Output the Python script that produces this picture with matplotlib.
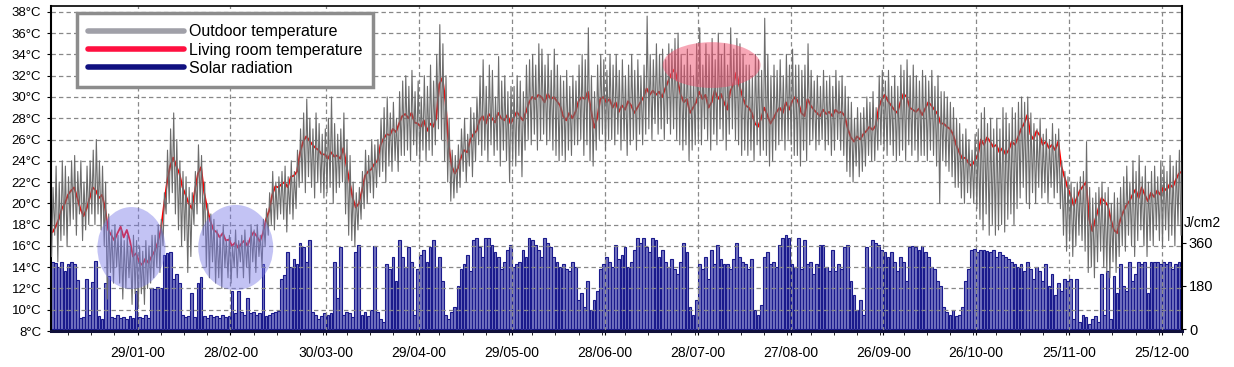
import matplotlib
matplotlib.use('Agg')
import matplotlib.pyplot as plt
from matplotlib.patches import Ellipse
from matplotlib.lines import Line2D
import numpy as np
import pandas as pd

plt.rcParams['font.family'] = ['Liberation Sans', 'DejaVu Sans']

START = pd.Timestamp('2000-01-01')

# daily outdoor maximum (degC), one row per week starting 01/01/2000
outdoor_max = [
    21.5, 23.5, 22, 24, 23.5, 22.5, 24,
    24.5, 23, 24, 22, 23.5, 24, 25,
    26, 24, 23.5, 22, 19, 17.5, 18,
    17, 17.5, 16.5, 17, 16, 17, 16.5,
    16, 15.5, 16.5, 16, 17, 17, 18,
    18.5, 21, 25, 27, 28.5, 26, 24,
    23, 22.5, 21.5, 21, 23, 25.5, 24.5,
    22, 20, 19, 18.5, 17.5, 17, 18,
    16.5, 17, 16, 17.5, 16.5, 17, 17.5,
    16.5, 18, 17.5, 18, 17, 18.5, 19.5,
    21, 23, 22, 22.5, 23, 23.5, 22.5,
    24, 23, 25, 27, 28.5, 29.8, 28,
    27, 28.5, 27.5, 26.5, 27, 28, 30,
    27.5, 26.5, 27, 28.5, 26, 24.5, 22,
    21, 21.5, 23, 25, 24.5, 26, 25.5,
    26, 28, 29, 30, 28.5, 29.5, 28,
    30.5, 31.5, 32, 31, 32.5, 30.5, 31.5,
    30, 32, 31, 33, 31.5, 34, 36.8,
    35, 32, 28, 25, 24.5, 25.5, 27,
    28, 26.5, 29, 28.5, 30, 32, 33.5,
    31, 33, 32.5, 30, 33.8, 31.5, 32,
    30.5, 31, 31, 32, 31.5, 30.5, 33,
    33.5, 34, 33, 35, 34.5, 33, 34,
    32.5, 34.5, 33, 32, 31.5, 32.5, 31,
    32, 31.5, 33, 34, 33.5, 36.5, 32,
    30.5, 33, 34, 33.5, 32.5, 34, 33,
    34, 32.5, 33.5, 32, 33, 34, 32.5,
    33.5, 32, 33, 37.6, 34, 33.5, 35,
    34, 34.5, 33.5, 35, 34.5, 35.5, 36,
    34, 33, 34.5, 33, 32, 35, 36.5,
    33, 35, 34, 35.5, 33.5, 36, 34,
    35, 33, 36.5, 34.5, 35.5, 35, 34,
    33, 33, 32, 34, 33.5, 32.5, 37.4,
    34, 32, 33, 32.5, 33.5, 32, 34,
    33, 34.5, 33, 33, 32.5, 33, 35,
    32.5, 31.5, 32, 31, 32.5, 31.5, 32,
    31, 32.5, 31.5, 32, 31, 30, 29.5,
    28, 29, 28.5, 29, 30, 29.5, 30.5,
    29, 32, 32.5, 31.5, 32.5, 31, 32,
    31, 33, 32.5, 33.5, 32, 33, 32,
    31.5, 32.5, 32, 31.5, 32.5, 31, 32,
    30.5, 30.5, 30, 29.5, 29, 28, 27.5,
    26.5, 27, 26, 25, 26.5, 27, 28.5,
    29, 27.5, 28, 27, 28, 27, 29,
    28.5, 27.5, 29, 28.5, 29.5, 30, 29.5,
    30, 28.5, 27.5, 27, 28, 26.5, 27,
    26, 27.5, 26.5, 27, 24, 23, 22.5,
    22, 21.5, 22, 22.5, 23, 25.8, 21.5,
    20.5, 21, 21.5, 22, 21, 21.5, 20,
    21, 20.5, 21.5, 22.5, 23.5, 22, 24,
    23, 24.5, 22.5, 23.5, 22, 23, 23.5,
    22.5, 24, 23.5, 23, 24.5, 23.5, 24,
    25, 24.5,
]

# daily outdoor minimum (degC)
outdoor_min = [
    15, 17, 14.5, 16.5, 17, 16, 18,
    18.5, 17, 19, 16.5, 17.5, 18, 19,
    18, 19, 17.5, 16, 11, 13.5, 12.5,
    14, 12.5, 11, 12, 13, 10.5, 11.5,
    10.3, 11.5, 10.5, 12, 12.5, 13, 14,
    13.5, 16, 19, 20, 21, 19, 17.5,
    16, 16.5, 13.5, 15, 18, 19, 20,
    17, 14, 13, 14.5, 12.5, 13, 12,
    14, 13, 12.5, 14, 13, 14.5, 13,
    14, 12.5, 14.5, 13.5, 15, 14, 16,
    17, 18, 17.5, 18.5, 19, 18.5, 17.3,
    19, 18.5, 19.5, 21.5, 22, 21, 22.5,
    21.5, 20.5, 22, 21, 20.5, 21, 21.5,
    20, 21, 21.5, 22, 19, 17, 16.5,
    16, 17.5, 18.5, 19.5, 20, 21, 20.5,
    21.5, 22.5, 23, 22, 23.5, 23, 24,
    23, 24.5, 24.5, 25, 24, 25.5, 24.5,
    24, 25, 24, 25, 24.5, 25.5, 27,
    26, 24, 22, 20.2, 20.5, 21, 21.5,
    23, 22, 23.5, 22.5, 24, 25.5, 24.5,
    25, 24, 25.5, 24.5, 25, 23.5, 25,
    24, 22, 24, 23.5, 24.5, 22.5, 25,
    26, 25.5, 26.5, 25, 26, 26.5, 25.5,
    26, 25, 24.5, 24, 24.5, 24, 25,
    24.5, 25.5, 25.5, 26, 24.5, 25.5, 24,
    23.5, 25, 26, 26.5, 25, 26, 26,
    25.5, 26.5, 25, 26, 24.5, 25.5, 26,
    25, 26.5, 25.5, 26.5, 27, 26, 27.5,
    26.5, 27, 26, 27.5, 26.5, 27, 26,
    25.5, 25, 25.5, 24, 25, 25.5, 26,
    25.5, 27, 26, 25, 26.5, 25.5, 27,
    26, 25, 26.5, 27, 26, 25.5, 24.5,
    25, 24.5, 25, 24, 25.5, 24.5, 25,
    24.5, 23.5, 24, 25, 25.5, 26, 25,
    26, 25.5, 24.5, 24.5, 23.5, 25, 24,
    25.5, 26, 25, 25.5, 26, 25, 25.5,
    24.5, 25, 26, 25, 24.5, 23, 22.5,
    22, 23.5, 22.5, 23, 23.5, 24.5, 24,
    24, 25, 25.5, 25, 24.5, 25.5, 24.5,
    24, 24.5, 25, 24, 25.5, 24.5, 25,
    24, 24.5, 24.5, 24, 25, 24.5, 23.5,
    20, 24, 23.5, 23, 22.5, 21.5, 21.5,
    20.5, 20, 21, 20.5, 20, 19.5, 18.5,
    17.5, 19, 17, 18, 17, 17.5, 18,
    17.3, 18.5, 19, 18, 19.5, 20.5, 21.5,
    20, 19.5, 21, 20, 21.5, 20.5, 21,
    20, 21.5, 20.5, 21, 19.5, 17, 15.5,
    16.5, 15, 16, 17, 16.5, 15.5, 13.5,
    14, 13, 14.5, 15.5, 14, 13.5, 13,
    14.5, 13.5, 15, 16, 15.5, 17, 16,
    15, 16.5, 17.5, 16, 15, 16.5, 16,
    17.5, 16.5, 16, 17.5, 16.5, 17, 16,
    18, 17,
]

# daily living room temperature (degC)
living_room = [
    17.3, 17.8, 18.5, 19.5, 20, 20.8, 21.2,
    21.5, 20.5, 19.5, 18.8, 19.5, 20.5, 21.5,
    21.2, 20.5, 20.8, 19.5, 17.5, 17, 16.5,
    17.2, 17.8, 16.8, 17.5, 16.5, 15, 15.3,
    14.5, 14.2, 14.8, 14.4, 15, 15.5, 16.3,
    17.5, 19.8, 22, 23.5, 24.3, 23.5, 22.8,
    21.5, 20.8, 20, 19.5, 21.2, 22.8, 23.4,
    21, 19.5, 18.3, 17.5, 17.3, 16.8, 17.2,
    16.5, 16.6, 16, 16.3, 15.8, 16.2, 16.5,
    16, 16.8, 17.3, 16.9, 16.4, 17.2, 18.5,
    19.3, 20.8, 21.6, 21.5, 21.8, 22, 21.5,
    22.5, 22.6, 23, 24.8, 25.8, 26.3, 25.9,
    25.5, 25.2, 25, 24.6, 24.6, 24.2, 24.8,
    24.4, 24.5, 24.2, 25.2, 23.5, 22, 20.5,
    19.6, 20, 21.2, 22.6, 23, 23.2, 23.7,
    24, 25.5, 26.1, 26.5, 26.4, 27, 26.7,
    27.5, 28.2, 28.4, 28, 28.5, 27.6, 27.5,
    27.2, 27.8, 26.8, 27.5, 27.2, 28, 31.2,
    31.8, 29.5, 25.5, 23.5, 22.8, 23.3, 24.3,
    25, 24.8, 26, 26.5, 26.8, 27.8, 28.2,
    27.5, 28.4, 28, 27.6, 28.5, 28, 27.8,
    28.3, 27.5, 28, 28.6, 28.2, 27.8, 28.6,
    29.5, 30, 29.8, 30.2, 30, 29.5, 30.3,
    29.8, 30, 29.6, 29.2, 28.2, 27.8, 28.5,
    28, 28.6, 29.6, 30, 29.8, 30.5, 28.8,
    27.1, 28, 29.8, 30, 29.5, 29.8, 29,
    29.5, 28.6, 29.2, 28.8, 29.6, 29.2, 28.5,
    29, 29.5, 30, 30.8, 30.2, 30.6, 30.2,
    30.5, 30, 30.8, 31.5, 32.2, 32.6, 31.5,
    30.2, 29.5, 29.8, 28.5, 29, 29.5, 30.5,
    29.8, 30.2, 29, 29.5, 30.6, 29.8, 30.3,
    29.5, 28.8, 30.5, 31.2, 32.3, 31, 30,
    29.2, 29, 28.5, 27.5, 27.2, 28, 29,
    28.3, 27.5, 28, 28.6, 29, 28.5, 29.5,
    28.8, 29.6, 30, 29.5, 28.5, 28.2, 29.8,
    29.2, 28.8, 28.5, 28.2, 28.8, 28.4, 28.6,
    28.2, 28.8, 28.5, 28.6, 28.2, 27, 26.2,
    25.8, 26.3, 26, 26.5, 26.8, 27.2, 26.9,
    27.3, 29, 29.8, 30.2, 29.6, 29.2, 28.8,
    28.5, 29.5, 30.3, 30, 29, 28.8, 28.6,
    28.9, 28.3, 28.9, 29.5, 29.2, 28.8, 28.4,
    27.5, 27.5, 27.2, 27, 26.5, 25.5, 24.8,
    24.2, 24.3, 23.8, 23.5, 24, 24.5, 26,
    25.5, 26.2, 25.8, 25.3, 25.5, 24.8, 25.2,
    24.6, 25, 25.8, 25.5, 26.2, 27, 27.5,
    28.3, 26.5, 26, 26.8, 26.4, 25.5, 25.8,
    25.2, 25.5, 25, 25.8, 23.5, 22.5, 21.5,
    20.8, 19.8, 20.5, 21.2, 21.6, 22, 18.5,
    17.4, 18.5, 19.5, 20.5, 20.2, 19.8, 18.5,
    17.5, 17.2, 18.4, 19.2, 19.8, 20.2, 20.8,
    21.3, 20.5, 21.5, 20.8, 20.2, 21, 20.6,
    21.2, 20.8, 21.5, 21.2, 21.8, 21.5, 22.2,
    22.8, 23,
]

# daily peak solar radiation (J/cm2)
solar = [
    280, 275, 260, 280, 240, 270, 280,
    270, 205, 45, 50, 210, 60, 195,
    285, 55, 40, 190, 220, 50, 45,
    60, 45, 50, 40, 55, 45, 160,
    50, 45, 60, 45, 170, 165, 175,
    170, 310, 315, 320, 210, 230, 190,
    60, 50, 55, 150, 50, 190, 215,
    55, 45, 60, 50, 55, 45, 60,
    50, 55, 160, 65, 160, 70, 60,
    130, 65, 70, 60, 65, 270, 55,
    60, 65, 70, 75, 210, 225, 320,
    260, 290, 270, 360, 340, 280, 370,
    70, 60, 40, 55, 65, 60, 65,
    280, 130, 340, 60, 70, 65, 50,
    320, 350, 60, 70, 55, 80, 345,
    70, 40, 30, 270, 250, 300, 200,
    370, 300, 260, 340, 280, 60, 250,
    310, 330, 280, 340, 370, 260, 300,
    200, 60, 40, 70, 90, 180, 250,
    270, 310, 240, 370, 380, 340, 300,
    380, 380, 350, 320, 300, 250, 280,
    330, 350, 260, 270, 280, 330, 300,
    380, 370, 350, 330, 300, 380, 360,
    340, 300, 280, 260, 270, 250, 240,
    280, 260, 120, 150, 90, 200, 80,
    120, 160, 250, 270, 300, 280, 260,
    350, 290, 310, 340, 260, 280, 330,
    380, 360, 380, 340, 320, 380, 370,
    300, 330, 280, 260, 290, 250, 230,
    280, 360, 320, 90, 60, 120, 270,
    250, 300, 210, 330, 270, 350, 290,
    270, 270, 250, 290, 360, 300, 280,
    270, 250, 290, 80, 60, 100, 300,
    320, 270, 280, 260, 350, 380, 390,
    380, 270, 260, 380, 250, 370, 270,
    280, 230, 270, 350, 350, 260, 240,
    330, 240, 270, 250, 340, 350, 200,
    140, 80, 120, 60, 340, 260, 370,
    360, 350, 330, 320, 300, 320, 280,
    240, 300, 280, 200, 340, 345, 340,
    330, 345, 320, 300, 260, 250, 200,
    180, 90, 70, 60, 80, 55, 60,
    90, 200, 250, 330, 335, 320, 330,
    330, 325, 320, 330, 300, 320, 310,
    300, 290, 280, 270, 260, 270, 240,
    280, 250, 210, 260, 240, 200, 270,
    180, 230, 140, 190, 160, 210, 200,
    210, 40, 210, 30, 60, 50, 20,
    40, 55, 30, 230, 60, 240, 40,
    220, 150, 270, 180, 160, 280, 200,
    230, 280, 270, 280, 150, 280, 280,
    280, 270, 280, 270, 280, 250, 270,
    280, 260,
]

date_labels = ['29/01-00', '28/02-00', '30/03-00', '29/04-00', '29/05-00',
               '28/06-00', '28/07-00', '27/08-00', '26/09-00', '26/10-00',
               '25/11-00', '25/12-00']
temp_ticks = list(range(8, 39, 2))
solar_ticks = [0, 180, 360]

legend_labels = ['Outdoor temperature', 'Living room temperature', 'Solar radiation']

days = np.arange(len(outdoor_max))
major_pos = [(pd.to_datetime(s, format='%d/%m-%y') - START).days for s in date_labels]
minor_pos = np.arange(major_pos[0] - 22.5, 366, 7.5)

# outdoor trace: daily low in the morning, high in the afternoon
xt = np.column_stack([days + 0.2, days + 0.65]).ravel()
yt = np.column_stack([outdoor_min, outdoor_max]).ravel()

W, H = 1234, 367
fig = plt.figure(figsize=(W / 100, H / 100), dpi=100)
ax = fig.add_axes([51 / W, 1 - 331 / H, (1182 - 51) / W, 325 / H])
ax2 = ax.twinx()
ax.set_zorder(ax2.get_zorder() + 1)
ax.patch.set_visible(False)

ax2.bar(days + 0.5, solar, width=0.9, color='#7474c0', edgecolor='#1a1a8c',
        linewidth=0.8)
ax2.set_ylim(-8, 1344)
ax2.set_yticks(solar_ticks)
ax2.tick_params(axis='y', labelsize=10.5, length=3, pad=2)
for s in ax2.spines.values():
    s.set_visible(False)

ax.plot(days + 0.5, living_room, color='#ff0000', lw=1.3, zorder=2)
ax.plot(xt, yt, color='#6c6c6c', lw=0.8, zorder=3)

ax.add_patch(Ellipse((26.0, 15.8), 22, 7.7, facecolor='#7878e6', alpha=0.44, lw=0, zorder=5))
ax.add_patch(Ellipse((59.7, 15.85), 24.2, 8.0, facecolor='#7878e6', alpha=0.44, lw=0, zorder=5))
ax.add_patch(Ellipse((213.5, 33.0), 31.6, 4.3, facecolor='#f0506e', alpha=0.5, lw=0, zorder=5))

ax.set_xlim(0, 365.2)
ax.set_ylim(8, 38.55)
ax.set_xticks(major_pos)
ax.set_xticklabels(date_labels)
ax.set_xticks(minor_pos, minor=True)
ax.set_yticks(temp_ticks)
ax.set_yticklabels([f'{t}°C' for t in temp_ticks])
ax.tick_params(axis='x', which='both', length=3, pad=8, labelsize=10)
ax.tick_params(axis='y', length=3, pad=4, labelsize=9.5)

dash = (0, (3.5, 2.5))
ax.grid(True, axis='y', ls=dash, color='#888888', lw=0.9)
ax.grid(True, axis='x', which='major', ls=dash, color='#888888', lw=0.9)

ax.spines['left'].set_linewidth(1.5)
ax.spines['right'].set_linewidth(1.5)
ax.spines['top'].set_linewidth(1.2)
ax.spines['bottom'].set_linewidth(2.2)
ax.spines['bottom'].set_color('#10103a')

ax.text(1.002, 0.332, 'J/cm2', transform=ax.transAxes, ha='left', va='center',
        fontsize=10)

handles = [Line2D([], [], color=c, lw=4, solid_capstyle='round')
           for c in ['#a0a0a8', '#ff1040', '#101080']]
leg = ax.legend(handles, legend_labels, loc='upper left',
                bbox_to_anchor=(0.023, 0.978), fontsize=11.5, handlelength=6,
                handletextpad=0.3, labelspacing=0.2, borderpad=0.7,
                borderaxespad=0, fancybox=False, framealpha=1,
                edgecolor='#8c8c8c')
leg.get_frame().set_linewidth(2.5)
leg.set_zorder(10)

fig.savefig('out.png', dpi=100)
